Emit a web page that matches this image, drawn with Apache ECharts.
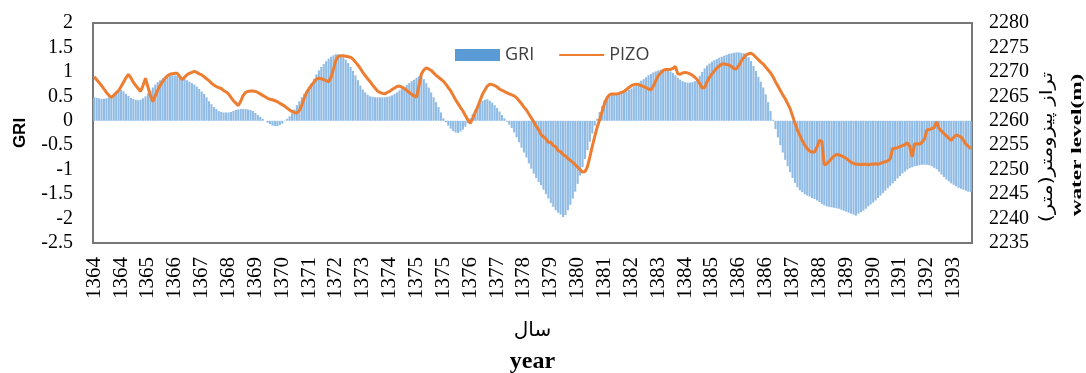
<!DOCTYPE html>
<html>
<head>
<meta charset="utf-8">
<script src="https://cdn.jsdelivr.net/npm/echarts@6/dist/echarts.min.js"></script>
<style>
  html, body { margin: 0; padding: 0; background: #fff; }
  #chart { width: 1086px; height: 373px; }
</style>
</head>
<body>
<div id="chart"></div>
<script>
// one bar / point per month, 1364 .. 1393 (30 years x 12)
const tickLabels = [
  '1364', '1364', '1365', '1366', '1367', '1368', '1369', '1370', '1371', '1372', '1373',
  '1374', '1375', '1375', '1376', '1377', '1378', '1379', '1380', '1381', '1382', '1383',
  '1384', '1385', '1386', '1386', '1387', '1388', '1389', '1390', '1391', '1392', '1393'
];
const labelEvery = 11; // a tick label every 11 months

// GRI index, one row per year
const gri = [
  0.48, 0.47, 0.46, 0.45, 0.45, 0.46, 0.48, 0.51, 0.55, 0.58, 0.61, 0.63,
  0.60, 0.55, 0.51, 0.47, 0.45, 0.43, 0.42, 0.43, 0.46, 0.50, 0.56, 0.62,
  0.68, 0.74, 0.79, 0.83, 0.87, 0.90, 0.92, 0.93, 0.93, 0.93, 0.92, 0.90,
  0.88, 0.86, 0.83, 0.80, 0.77, 0.74, 0.70, 0.65, 0.60, 0.55, 0.48, 0.40,
  0.34, 0.28, 0.24, 0.20, 0.18, 0.17, 0.17, 0.17, 0.18, 0.20, 0.22, 0.23,
  0.24, 0.24, 0.24, 0.23, 0.22, 0.20, 0.16, 0.12, 0.08, 0.04, 0.00, -0.04,
  -0.07, -0.10, -0.11, -0.11, -0.09, -0.06, -0.01, 0.04, 0.09, 0.15, 0.23, 0.32,
  0.40, 0.48, 0.55, 0.62, 0.70, 0.77, 0.86, 0.95, 1.03, 1.10, 1.16, 1.22,
  1.27, 1.31, 1.34, 1.36, 1.36, 1.34, 1.30, 1.25, 1.18, 1.10, 1.02, 0.93,
  0.83, 0.72, 0.64, 0.58, 0.53, 0.50, 0.49, 0.48, 0.48, 0.48, 0.48, 0.48,
  0.49, 0.50, 0.52, 0.55, 0.58, 0.62, 0.66, 0.69, 0.73, 0.77, 0.81, 0.84,
  0.88, 0.91, 0.90, 0.85, 0.77, 0.68, 0.58, 0.48, 0.38, 0.28, 0.17, 0.05,
  -0.03, -0.10, -0.16, -0.21, -0.24, -0.25, -0.22, -0.18, -0.12, -0.05, 0.05, 0.14,
  0.22, 0.30, 0.36, 0.41, 0.43, 0.44, 0.41, 0.37, 0.32, 0.26, 0.19, 0.12,
  0.05, -0.02, -0.08, -0.15, -0.24, -0.34, -0.44, -0.55, -0.65, -0.75, -0.87, -0.98,
  -1.08, -1.17, -1.25, -1.32, -1.41, -1.50, -1.59, -1.68, -1.76, -1.83, -1.88, -1.92,
  -1.97, -1.93, -1.83, -1.72, -1.59, -1.45, -1.29, -1.12, -0.95, -0.78, -0.60, -0.43,
  -0.26, -0.10, 0.04, 0.18, 0.30, 0.42, 0.48, 0.52, 0.54, 0.55, 0.55, 0.56,
  0.57, 0.58, 0.60, 0.63, 0.66, 0.70, 0.74, 0.78, 0.82, 0.85, 0.89, 0.93,
  0.96, 0.99, 1.01, 1.03, 1.04, 1.05, 1.05, 1.04, 1.01, 0.98, 0.93, 0.88,
  0.84, 0.81, 0.79, 0.78, 0.78, 0.79, 0.81, 0.85, 0.92, 1.00, 1.07, 1.13,
  1.17, 1.21, 1.24, 1.26, 1.29, 1.31, 1.33, 1.35, 1.37, 1.38, 1.39, 1.40,
  1.40, 1.39, 1.38, 1.35, 1.30, 1.22, 1.12, 1.02, 0.90, 0.80, 0.68, 0.54,
  0.38, 0.20, 0.02, -0.17, -0.34, -0.50, -0.65, -0.80, -0.93, -1.05, -1.17, -1.27,
  -1.36, -1.42, -1.46, -1.50, -1.53, -1.55, -1.58, -1.60, -1.63, -1.66, -1.70, -1.73,
  -1.75, -1.76, -1.77, -1.78, -1.79, -1.80, -1.82, -1.84, -1.86, -1.88, -1.90, -1.92,
  -1.94, -1.90, -1.87, -1.84, -1.80, -1.75, -1.71, -1.67, -1.63, -1.58, -1.53, -1.48,
  -1.43, -1.38, -1.33, -1.28, -1.23, -1.18, -1.13, -1.08, -1.04, -1.00, -0.97, -0.95,
  -0.93, -0.92, -0.91, -0.90, -0.90, -0.90, -0.91, -0.93, -0.96, -0.99, -1.04, -1.10,
  -1.15, -1.20, -1.24, -1.28, -1.31, -1.34, -1.37, -1.39, -1.41, -1.43, -1.45, -1.46
];

// piezometer water level (m), one row per year
const pizo = [
  2269.0, 2268.4, 2267.8, 2267.2, 2266.5, 2265.8, 2265.2, 2264.8, 2265.2, 2265.7, 2266.2, 2267.0,
  2267.9, 2268.8, 2269.5, 2268.8, 2267.9, 2267.2, 2266.6, 2266.0, 2267.2, 2268.7, 2266.9, 2265.2,
  2263.9, 2265.1, 2266.3, 2267.2, 2268.0, 2268.7, 2269.2, 2269.5, 2269.6, 2269.7, 2269.7, 2269.1,
  2268.4, 2268.9, 2269.4, 2269.7, 2269.9, 2270.1, 2269.9, 2269.6, 2269.4, 2269.0, 2268.6, 2268.2,
  2267.7, 2267.3, 2267.0, 2266.8, 2266.6, 2266.2, 2265.9, 2265.5, 2264.8, 2264.1, 2263.6, 2263.1,
  2264.0, 2265.2, 2265.8, 2266.0, 2266.1, 2266.1, 2266.0, 2265.8, 2265.5, 2265.2, 2264.9, 2264.6,
  2264.4, 2264.3, 2264.1, 2263.9, 2263.6, 2263.3, 2263.0, 2262.6, 2262.2, 2261.9, 2261.7, 2261.6,
  2262.1, 2263.2, 2264.6, 2265.8, 2266.6, 2267.3, 2267.9, 2268.5, 2268.7, 2268.6, 2268.4, 2268.2,
  2268.0, 2268.9, 2270.6, 2272.4, 2273.2, 2273.3, 2273.3, 2273.2, 2273.1, 2273.0, 2272.6, 2272.0,
  2271.4, 2270.7, 2269.9, 2269.2, 2268.6, 2268.0, 2267.3, 2266.7, 2266.1, 2265.8, 2265.6, 2265.5,
  2265.8, 2266.0, 2266.4, 2266.7, 2267.0, 2267.1, 2266.9, 2266.6, 2266.2, 2265.8, 2265.4, 2265.1,
  2264.8, 2267.2, 2269.6, 2270.4, 2270.8, 2270.6, 2270.3, 2269.8, 2269.3, 2268.9, 2268.5, 2268.1,
  2267.5, 2266.8, 2266.1, 2265.2, 2264.3, 2263.5, 2262.7, 2262.0, 2261.1, 2260.2, 2259.5, 2260.5,
  2261.7, 2262.8, 2264.1, 2265.4, 2266.3, 2267.1, 2267.5, 2267.4, 2267.2, 2266.9, 2266.5, 2266.2,
  2266.0, 2265.7, 2265.5, 2265.3, 2265.1, 2264.7, 2264.1, 2263.5, 2262.8, 2262.2, 2261.4, 2260.6,
  2259.8, 2258.9, 2258.2, 2257.2, 2256.7, 2256.3, 2255.6, 2255.6, 2254.9, 2254.7, 2253.9, 2253.7,
  2253.1, 2252.8, 2252.3, 2251.9, 2251.5, 2251.0, 2250.5, 2250.0, 2249.5, 2249.6, 2250.6, 2252.6,
  2254.8, 2256.8, 2258.7, 2260.2, 2261.9, 2263.5, 2264.7, 2265.3, 2265.5, 2265.5, 2265.5, 2265.6,
  2265.8, 2266.0, 2266.4, 2266.8, 2267.2, 2267.4, 2267.5, 2267.4, 2267.2, 2267.0, 2266.8, 2266.5,
  2266.3, 2267.1, 2268.2, 2269.2, 2269.8, 2270.3, 2270.5, 2270.5, 2270.5, 2270.7, 2271.1, 2269.6,
  2269.5, 2269.8, 2269.9, 2269.8, 2269.6, 2269.3, 2268.9, 2268.4, 2267.6, 2266.7, 2266.8, 2268.0,
  2268.9, 2269.6, 2270.2, 2270.8, 2271.2, 2271.6, 2271.6, 2271.5, 2271.4, 2271.1, 2270.7, 2270.6,
  2271.3, 2272.2, 2272.9, 2273.5, 2273.7, 2273.8, 2273.5, 2273.0, 2272.5, 2272.0, 2271.6, 2271.0,
  2270.4, 2269.8, 2269.0, 2268.0, 2267.1, 2266.2, 2265.3, 2264.5, 2263.5, 2262.5, 2261.0, 2259.5,
  2258.1, 2257.0, 2255.9, 2255.0, 2254.3, 2253.8, 2253.6, 2253.6, 2254.6, 2256.0, 2255.8, 2251.0,
  2251.2, 2251.7, 2252.3, 2252.8, 2253.1, 2253.0, 2252.8, 2252.6, 2252.3, 2251.9, 2251.5, 2251.3,
  2251.1, 2251.1, 2251.0, 2251.1, 2251.1, 2251.0, 2251.1, 2251.1, 2251.2, 2251.1, 2251.3, 2251.5,
  2251.6, 2251.8, 2252.2, 2254.3, 2254.4, 2254.5, 2254.7, 2254.9, 2255.1, 2255.5, 2254.8, 2252.6,
  2255.3, 2255.3, 2255.2, 2255.6, 2256.2, 2258.1, 2258.2, 2258.4, 2258.6, 2259.8, 2258.4, 2257.9,
  2257.4, 2256.9, 2256.4, 2256.0, 2256.6, 2257.1, 2256.9, 2256.7, 2256.0, 2255.2, 2254.8, 2254.3
];

const months = gri.map((_, i) => String(i + 1));

const serif = 'Liberation Serif';

const chart = echarts.init(document.getElementById('chart'), null, { renderer: 'canvas' });

chart.setOption({
  animation: false,
  backgroundColor: '#fff',
  grid: {
    left: 93,
    right: 114,
    top: 23,
    bottom: 130,
    outerBoundsMode: 'none',
    show: true,
    borderColor: '#777',
    borderWidth: 2
  },
  legend: {
    left: 455,
    top: 46,
    padding: 0,
    itemWidth: 45,
    itemHeight: 12,
    itemGap: 24,
    textStyle: { fontFamily: 'Open Sans', fontSize: 18, color: '#404040' },
    data: [
      { name: 'GRI', icon: 'rect', itemStyle: { color: '#5b9bd5' } },
      { name: 'PIZO', itemStyle: { opacity: 0 } }
    ]
  },
  xAxis: {
    type: 'category',
    data: months,
    boundaryGap: true,
    axisLine: { show: false },
    axisTick: { show: false },
    splitLine: { show: false },
    axisLabel: {
      interval: labelEvery - 1,
      rotate: 90,
      margin: 14,
      fontFamily: serif,
      fontSize: 21,
      color: '#000',
      formatter: (v, i) => tickLabels[i / labelEvery] || ''
    },
    name: '{fa|سال}\n{en|year}',
    nameLocation: 'middle',
    nameGap: 72,
    nameTextStyle: {
      rich: {
        fa: { fontFamily: 'DejaVu Sans', fontSize: 20, lineHeight: 32, color: '#000' },
        en: { fontFamily: serif, fontWeight: 'bold', fontSize: 24, lineHeight: 30, color: '#000' }
      }
    }
  },
  yAxis: [
    {
      type: 'value',
      position: 'left',
      min: -2.5,
      max: 2,
      interval: 0.5,
      axisLine: { show: false },
      axisTick: { show: false },
      splitLine: { show: false },
      axisLabel: { margin: 20, fontFamily: serif, fontSize: 20, color: '#000' },
      name: 'GRI',
      nameLocation: 'middle',
      nameRotate: 90,
      nameGap: 64,
      nameTextStyle: { fontFamily: 'Liberation Sans', fontWeight: 'bold', fontSize: 17, color: '#000' }
    },
    {
      type: 'value',
      position: 'right',
      min: 2235,
      max: 2280,
      interval: 5,
      axisLine: { show: false },
      axisTick: { show: false },
      splitLine: { show: false },
      axisLabel: {
        margin: 17,
        fontFamily: serif,
        fontSize: 20,
        color: '#000',
        formatter: (v) => String(v)
      }
    }
  ],
  // right-hand axis titles are stretched along their length in the original
  graphic: [
    {
      type: 'text',
      x: 1048,
      y: 147,
      rotation: Math.PI / 2,
      scaleX: 1.25,
      style: {
        text: 'تراز پیزومتر(متر)',
        fontFamily: 'DejaVu Sans',
        fontSize: 17,
        fill: '#000',
        align: 'center',
        verticalAlign: 'middle'
      }
    },
    {
      type: 'text',
      x: 1077,
      y: 145,
      rotation: Math.PI / 2,
      scaleX: 1.55,
      style: {
        text: 'water level(m)',
        fontFamily: serif,
        fontWeight: 'bold',
        fontSize: 15,
        fill: '#000',
        align: 'center',
        verticalAlign: 'middle'
      }
    }
  ],
  series: [
    {
      name: 'GRI',
      type: 'bar',
      yAxisIndex: 0,
      data: gri,
      barCategoryGap: '15%',
      itemStyle: { color: '#8fbbe5' }
    },
    {
      name: 'PIZO',
      type: 'line',
      yAxisIndex: 1,
      data: pizo,
      symbol: 'none',
      itemStyle: { color: '#ed7d31' },
      lineStyle: { color: '#ed7d31', width: 3 },
      z: 3
    }
  ]
});
</script>
</body>
</html>
